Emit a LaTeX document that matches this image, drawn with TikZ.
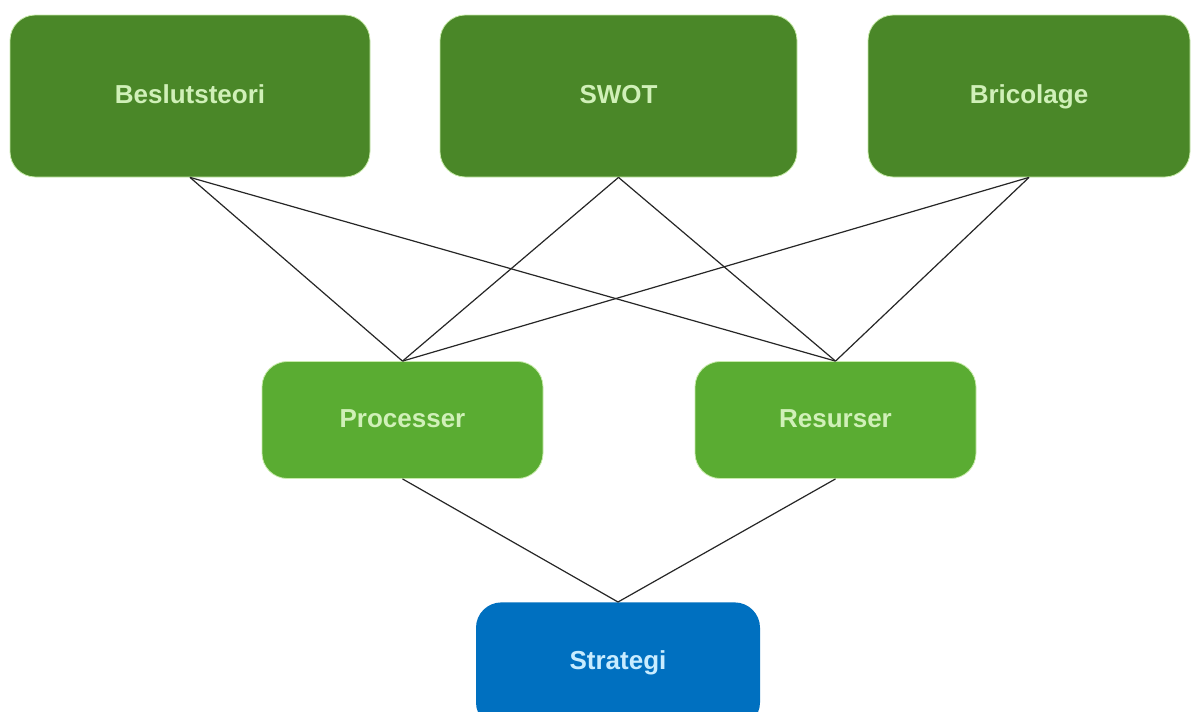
\documentclass[tikz,border=0pt]{standalone}
\usepackage{fontspec}
\setmainfont{Liberation Sans}
\definecolor{dkgreen}{RGB}{74,135,40}
\definecolor{ltgreen}{RGB}{90,172,50}
\definecolor{stblue}{RGB}{0,112,192}
\definecolor{gtext}{RGB}{208,240,184}
\definecolor{btext}{RGB}{200,236,255}
\definecolor{halo}{RGB}{200,235,170}
\begin{document}
\begin{tikzpicture}[x=0.75pt,y=-0.75pt,
  lbl/.style={font=\fontsize{19.5}{22}\selectfont\bfseries,text height=14pt,text depth=3pt},
  box/.style={rectangle,rounded corners=19pt,draw=halo,line width=0.6pt,inner sep=0pt,lbl},
  topbox/.style={box,fill=dkgreen,text=gtext,minimum height=121.5pt},
  midbox/.style={box,fill=ltgreen,text=gtext,minimum height=87.75pt,minimum width=210.75pt},
  strbox/.style={box,fill=stblue,text=btext,minimum height=94pt,minimum width=213pt,draw=none},
  link/.style={draw=black!85,line width=0.9pt}]
\useasboundingbox (0,0) rectangle (1198,711);
\clip (0,0) rectangle (1198,711);
\fill[white] (0,0) rectangle (1198,711);
\node[topbox,minimum width=270pt] (bes) at (190,96) {Beslutsteori};
\node[topbox,minimum width=267.75pt] (swot) at (618.5,96) {SWOT};
\node[topbox,minimum width=241.5pt] (bri) at (1029,96) {Bricolage};
\node[midbox] (pro) at (402.5,420) {Processer};
\node[midbox] (res) at (835.5,420) {Resurser};
\node[strbox,anchor=north] (str) at (618,602) {};
\node[lbl,text=btext] (strt) at (618,662) {Strategi};
\draw[link] (bes.south) -- (pro.north);
\draw[link] (bes.south) -- (res.north);
\draw[link] (swot.south) -- (pro.north);
\draw[link] (swot.south) -- (res.north);
\draw[link] (bri.south) -- (pro.north);
\draw[link] (bri.south) -- (res.north);
\draw[link] (pro.south) -- (str.north);
\draw[link] (res.south) -- (str.north);
\end{tikzpicture}
\end{document}
